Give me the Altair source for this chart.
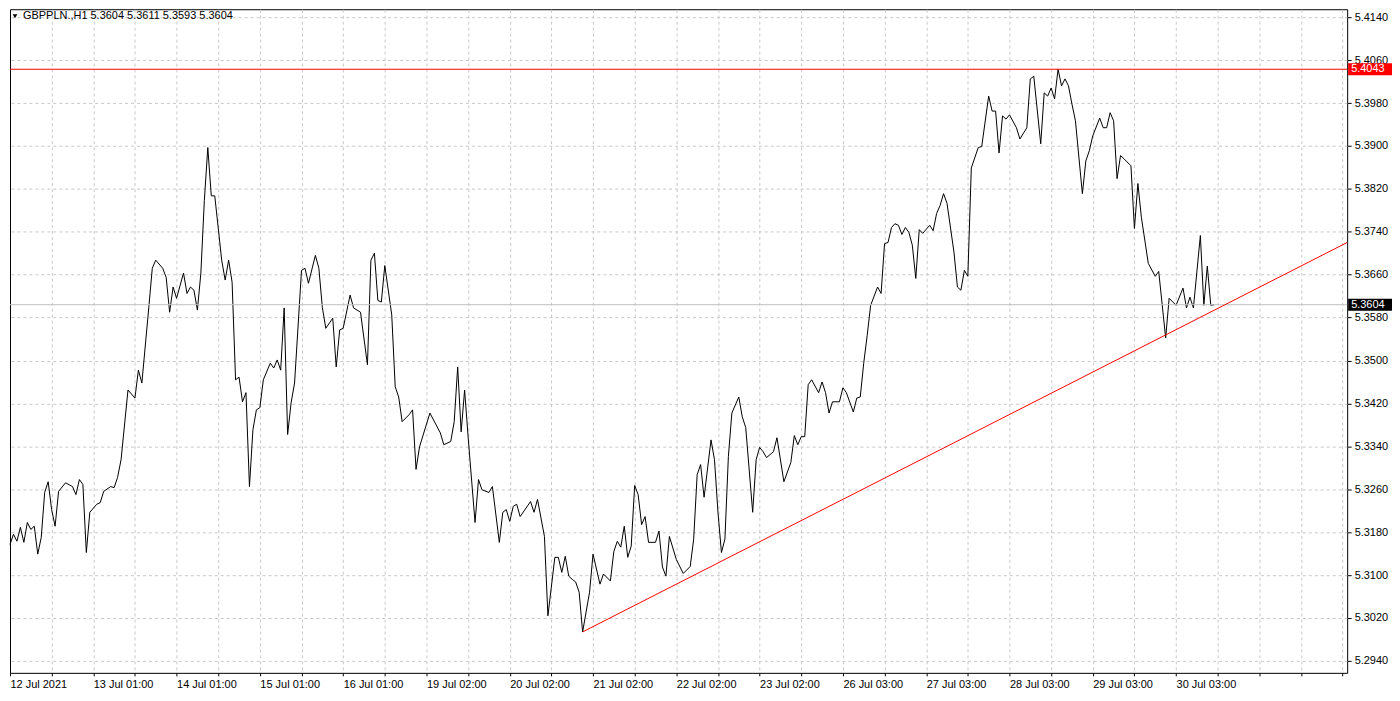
import altair as alt
import pandas as pd

# ---- data (hourly bar index, close price) ----
bars = [0, 1, 2, 3, 4, 5, 6, 7, 8, 9, 10, 11, 12, 13, 14, 16, 18, 19, 20, 21, 22, 23, 25, 26, 27, 29, 30, 31, 32, 34,
        36, 37, 38, 40, 41, 42, 44, 45, 46, 47, 48, 50, 51, 52, 53, 54, 55, 56, 57, 58, 59, 61, 62, 63, 64, 65, 66, 67, 68, 69,
        70, 71, 72, 73, 75, 76, 77, 78, 79, 80, 81, 82, 84, 85, 86, 88, 89, 90, 91, 93, 94, 95, 96, 98, 99, 101, 103, 104, 105, 106,
        107, 108, 110, 111, 112, 113, 115, 116, 117, 118, 121, 124, 125, 127, 128, 129, 130, 131, 132, 134, 135, 136, 138, 139, 141, 142, 143, 144, 145, 146,
        147, 150, 151, 152, 154, 155, 157, 158, 159, 160, 161, 162, 163, 164, 165, 167, 168, 170, 171, 173, 174, 175, 176, 177, 178, 179, 180, 181, 182, 183,
        184, 186, 187, 188, 189, 190, 192, 194, 196, 197, 198, 199, 200, 202, 203, 204, 205, 206, 207, 208, 210, 211, 212, 214, 215, 216, 217, 218, 220, 221,
        223, 225, 226, 227, 228, 229, 230, 231, 233, 234, 235, 236, 237, 239, 240, 241, 243, 244, 245, 246, 247, 248, 250, 251, 252, 253, 254, 255, 256, 257,
        258, 259, 260, 261, 262, 263, 265, 266, 267, 268, 269, 270, 272, 273, 274, 275, 276, 277, 279, 280, 282, 283, 284, 285, 286, 287, 288, 290, 291, 293,
        294, 295, 297, 298, 299, 300, 301, 302, 303, 304, 305, 306, 307, 309, 310, 311, 312, 314, 315, 316, 317, 318, 319, 320, 321, 323, 324, 325, 326, 328,
        330, 331, 333, 334, 336, 338, 339, 340, 341, 343, 344, 345, 346, 347]
prices = [5.3157, 5.3176, 5.3163, 5.3189, 5.3161, 5.3198, 5.3185, 5.3191, 5.3139, 5.3170, 5.3254, 5.3274, 5.3222, 5.3191, 5.3256, 5.3272, 5.3265, 5.3250, 5.3278, 5.3269, 5.3142, 5.3217, 5.3232, 5.3235, 5.3256, 5.3265, 5.3263, 5.3282, 5.3315, 5.3445,
          5.3430, 5.3482, 5.3458, 5.3599, 5.3672, 5.3687, 5.3672, 5.3655, 5.3590, 5.3637, 5.3616, 5.3663, 5.3625, 5.3637, 5.3631, 5.3594, 5.3663, 5.3798, 5.3897, 5.3807, 5.3807, 5.3687, 5.3650, 5.3687, 5.3646, 5.3464, 5.3469, 5.3423, 5.3440, 5.3265,
          5.3371, 5.3408, 5.3412, 5.3464, 5.3495, 5.3486, 5.3501, 5.3482, 5.3598, 5.3362, 5.3421, 5.3458, 5.3668, 5.3672, 5.3644, 5.3696, 5.3672, 5.3599, 5.3560, 5.3579, 5.3488, 5.3557, 5.3560, 5.3622, 5.3598, 5.3590, 5.3492, 5.3687, 5.3700, 5.3612,
          5.3609, 5.3677, 5.3585, 5.3451, 5.3432, 5.3386, 5.3399, 5.3408, 5.3297, 5.3339, 5.3402, 5.3365, 5.3343, 5.3349, 5.3386, 5.3488, 5.3367, 5.3445, 5.3358, 5.3198, 5.3278, 5.3259, 5.3254, 5.3265, 5.3161, 5.3217, 5.3222, 5.3200, 5.3228, 5.3232,
          5.3209, 5.3237, 5.3217, 5.3241, 5.3172, 5.3024, 5.3133, 5.3133, 5.3105, 5.3135, 5.3098, 5.3092, 5.3087, 5.3068, 5.2994, 5.3068, 5.3139, 5.3083, 5.3102, 5.3089, 5.3144, 5.3163, 5.3152, 5.3191, 5.3133, 5.3154, 5.3267, 5.3250, 5.3194, 5.3209,
          5.3161, 5.3161, 5.3182, 5.3115, 5.3098, 5.3172, 5.3129, 5.3103, 5.3116, 5.3167, 5.3287, 5.3306, 5.3245, 5.3352, 5.3315, 5.3217, 5.3142, 5.3167, 5.3321, 5.3402, 5.3432, 5.3395, 5.3375, 5.3217, 5.3315, 5.3338, 5.3330, 5.3319, 5.3330, 5.3356,
          5.3274, 5.3310, 5.3360, 5.3343, 5.3358, 5.3358, 5.3455, 5.3464, 5.3440, 5.3460, 5.3440, 5.3402, 5.3423, 5.3423, 5.3449, 5.3440, 5.3404, 5.3430, 5.3432, 5.3495, 5.3547, 5.3603, 5.3637, 5.3625, 5.3718, 5.3720, 5.3748, 5.3755, 5.3752, 5.3735,
          5.3748, 5.3739, 5.3715, 5.3653, 5.3744, 5.3737, 5.3752, 5.3742, 5.3774, 5.3789, 5.3811, 5.3793, 5.3702, 5.3637, 5.3631, 5.3668, 5.3657, 5.3859, 5.3897, 5.3899, 5.3993, 5.3965, 5.3965, 5.3887, 5.3956, 5.3950, 5.3958, 5.3934, 5.3913, 5.3934,
          5.4025, 5.4030, 5.3904, 5.3999, 5.3993, 5.4008, 5.3988, 5.4043, 5.4012, 5.4025, 5.4012, 5.3978, 5.3947, 5.3811, 5.3872, 5.3891, 5.3919, 5.3952, 5.3934, 5.3934, 5.3962, 5.3947, 5.3839, 5.3882, 5.3876, 5.3863, 5.3746, 5.3830, 5.3767, 5.3681,
          5.3657, 5.3666, 5.3542, 5.3616, 5.3603, 5.3635, 5.3598, 5.3618, 5.3598, 5.3733, 5.3603, 5.3676, 5.3603, 5.3604]

x_labels = ["12 Jul 2021", "13 Jul 01:00", "14 Jul 01:00", "15 Jul 01:00", "16 Jul 01:00", "19 Jul 02:00",
            "20 Jul 02:00", "21 Jul 02:00", "22 Jul 02:00", "23 Jul 02:00", "26 Jul 03:00", "27 Jul 03:00",
            "28 Jul 03:00", "29 Jul 03:00", "30 Jul 03:00"]
y_ticks = [5.2940, 5.3020, 5.3100, 5.3180, 5.3260, 5.3340, 5.3420, 5.3500,
           5.3580, 5.3660, 5.3740, 5.3820, 5.3900, 5.3980, 5.4060, 5.4140]

symbol = "GBPPLN.,H1"
ohlc = ["5.3604", "5.3611", "5.3593", "5.3604"]
resistance = [5.4043]
current = [5.3604]
trend_bars = [165, 385.3]
trend_prices = [5.2994, 5.3720]

# ---- chart ----
W, H = 1342, 666
FONT = "Liberation Sans"

df = pd.DataFrame({"bar": bars, "price": prices})
xscale = alt.Scale(domain=[0, 385.3], nice=False, zero=False)
yscale = alt.Scale(domain=[5.29177, 5.41549], nice=False, zero=False)

label_arr = "[" + ",".join("'" + s + "'" for s in x_labels) + "]"
x_expr = f"(datum.value % 24 == 0 && datum.value / 24 < {len(x_labels)}) ? {label_arr}[datum.value / 24] : ''"

X = alt.X("bar:Q", scale=xscale,
          axis=alt.Axis(values=list(range(0, 385, 12)), labelExpr=x_expr, labelAlign="left",
                        labelPadding=3, tickSize=3, grid=True, labelOverlap=False,
                        gridOpacity={"condition": {"test": "datum.value == 0", "value": 0}, "value": 1},
                        labelFlush=False, title=None))
Y = alt.Y("price:Q", scale=yscale,
          axis=alt.Axis(orient="right", values=y_ticks, format=".4f", tickSize=4, labelPadding=3,
                        grid=True, labelOverlap=False, labelFlush=False, title=None))

line = alt.Chart(df).mark_line(color="black", strokeWidth=1).encode(x=X, y=Y)

cur_rule = alt.Chart(pd.DataFrame({"price": current})).mark_rule(color="#c0c0c0", strokeWidth=1).encode(y=Y)
res_rule = alt.Chart(pd.DataFrame({"price": resistance})).mark_rule(color="#ff0000", strokeWidth=1).encode(y=Y)
trend = alt.Chart(pd.DataFrame({"bar": trend_bars, "price": trend_prices})).mark_line(
    color="#ff0000", strokeWidth=1, clip=True).encode(x=X, y=Y)

box_df = pd.DataFrame({"price": resistance + current,
                       "label": [f"{v:.4f}" for v in resistance + current],
                       "fill": ["#ff0000", "#000000"]})
boxes = alt.Chart(box_df).mark_rect(yOffset=-6, y2Offset=6).encode(
    x=alt.value(W + 1), x2=alt.value(W + 45),
    y=Y, y2="price:Q",
    color=alt.Color("fill:N", scale=None))
box_text = alt.Chart(box_df).mark_text(align="left", baseline="middle", color="white",
                                       font=FONT, fontSize=11).encode(
    x=alt.value(W + 4), y=Y, text="label:N")

title_df = pd.DataFrame({"t": [symbol + "  " + " ".join(ohlc)]})
tri = alt.Chart(title_df).mark_point(shape="triangle-down", filled=True, color="black", size=22, opacity=1).encode(
    x=alt.value(5), y=alt.value(7))
title = alt.Chart(title_df).mark_text(align="left", baseline="middle", font=FONT, fontSize=11,
                                      color="black").encode(
    x=alt.value(13), y=alt.value(7), text="t:N")

chart = alt.layer(line, cur_rule, res_rule, trend, boxes, box_text, tri, title).properties(
    width=W, height=H, padding=0, background="white"
).configure_view(stroke="black", strokeWidth=1).configure_axis(
    labelFont=FONT, labelFontSize=11, labelColor="black", domain=False,
    gridColor="#c8c8c8", gridDash=[3, 3], gridWidth=1, tickColor="black"
)

chart.save("out.html", embed_options={"renderer": "svg", "actions": False})
